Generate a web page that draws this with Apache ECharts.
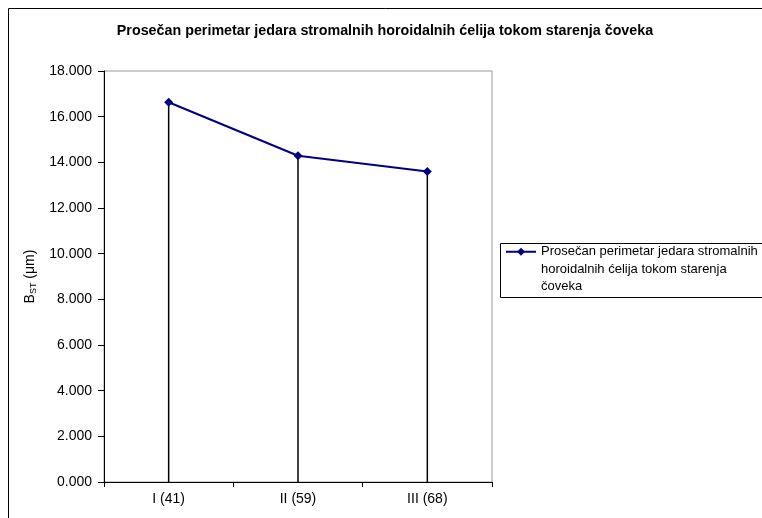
<!DOCTYPE html>
<html><head><meta charset="utf-8">
<script src="https://cdn.jsdelivr.net/npm/echarts@6/dist/echarts.min.js"></script>
<style>html,body{margin:0;padding:0;background:#fff}#c{width:762px;height:518px}</style>
</head><body><div id="c"></div>
<script>
const titleText = 'Prosečan perimetar jedara stromalnih horoidalnih ćelija tokom starenja čoveka';
const categories = ['I (41)', 'II (59)', 'III (68)'];
const seriesName = 'Prosečan perimetar jedara stromalnih horoidalnih ćelija tokom starenja čoveka';
const legendLines = ['Prosečan perimetar jedara stromalnih', 'horoidalnih ćelija tokom starenja', 'čoveka'];
const values = [16.63, 14.29, 13.60];
const yMin = 0, yMax = 18, yInterval = 2;

const FONT = 'Arial, "Liberation Sans", sans-serif';
const chart = echarts.init(document.getElementById('c'), null, {renderer: 'canvas'});
chart.setOption({
  animation: false,
  backgroundColor: '#fff',
  title: {
    text: titleText, left: 380, top: 19, textAlign: 'center',
    textStyle: {fontFamily: FONT, fontSize: 14.3, fontWeight: 'bold', color: '#000'}
  },
  graphic: [
    {type: 'rect', shape: {x: 8.5, y: 8.5, width: 800, height: 600}, style: {fill: null, stroke: '#000', lineWidth: 1}, silent: true, z: -10},
    {type: 'rect', shape: {x: 500.5, y: 243.5, width: 300, height: 54}, style: {fill: '#fff', stroke: '#000', lineWidth: 1}, silent: true, z: 0}
  ],
  legend: {
    data: [seriesName], left: 505, top: 208, padding: 0, z: 5,
    itemWidth: 30, itemHeight: 10, itemGap: 2,
    formatter: () => '\n\n' + legendLines.join('\n'),
    textStyle: {fontFamily: FONT, fontSize: 13, color: '#000', lineHeight: 17.5}
  },
  grid: {left: 104, right: 270, top: 71, bottom: 36, show: true, borderColor: '#999', borderWidth: 1, containLabel: false},
  xAxis: {
    type: 'category', data: categories, boundaryGap: true,
    axisLine: {lineStyle: {color: '#000', width: 1}},
    axisTick: {show: true, inside: false, length: 5, alignWithLabel: false, lineStyle: {color: '#000'}},
    axisLabel: {fontFamily: FONT, fontSize: 14, color: '#000', margin: 10},
    splitLine: {show: false}
  },
  yAxis: {
    type: 'value', min: yMin, max: yMax, interval: yInterval,
    axisLine: {show: true, lineStyle: {color: '#000', width: 1}},
    axisTick: {show: true, inside: false, length: 6, lineStyle: {color: '#000'}},
    axisLabel: {fontFamily: FONT, fontSize: 14, color: '#000', margin: 12, formatter: v => v.toFixed(3)},
    splitLine: {show: false},
    name: '{b|B}{s|ST}{b| (μm)}', nameLocation: 'middle', nameGap: 61, nameRotate: 90,
    nameTextStyle: {
      fontFamily: FONT, color: '#000',
      rich: {
        b: {fontFamily: FONT, fontSize: 14, color: '#000', verticalAlign: 'middle', lineHeight: 16},
        s: {fontFamily: FONT, fontSize: 9, color: '#000', verticalAlign: 'bottom', lineHeight: 16, padding: [7, 0, 0, 0]}
      }
    }
  },
  series: [
    {
      name: 'drop', type: 'bar', data: values, barWidth: 1.5, barGap: '-100%',
      itemStyle: {color: '#000'}, silent: true, z: 1
    },
    {
      name: seriesName, type: 'line', data: values,
      lineStyle: {color: '#000080', width: 2},
      itemStyle: {color: '#000080'},
      symbol: 'diamond', symbolSize: 9, showSymbol: true, z: 3
    }
  ]
});
</script></body></html>
